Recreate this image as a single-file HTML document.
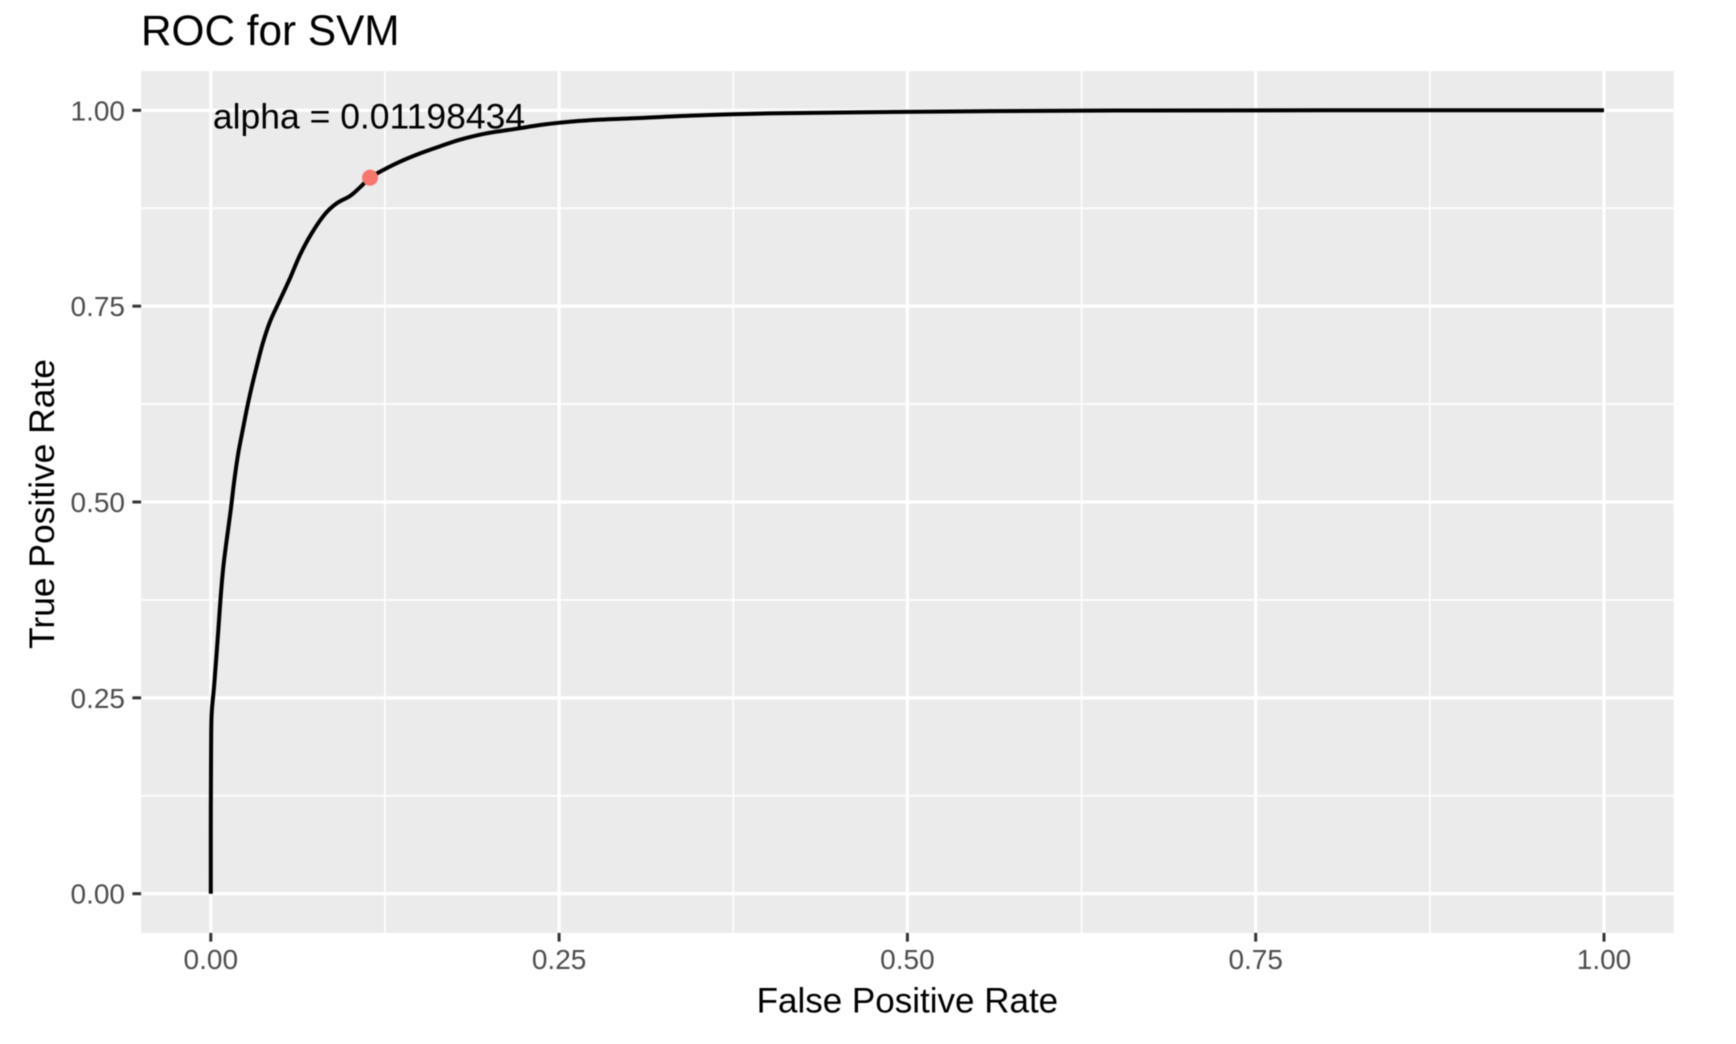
<!DOCTYPE html>
<html>
<head>
<meta charset="utf-8">
<title>ROC for SVM</title>
<style>
html,body{margin:0;padding:0;background:#fff;width:1736px;height:1044px;overflow:hidden}
svg{display:block;filter:blur(0.5px)}
text{font-family:"Liberation Sans",sans-serif}
</style>
</head>
<body>
<svg id="chart" width="1736" height="1044" viewBox="0 0 1736 1044" xmlns="http://www.w3.org/2000/svg">
  <rect x="0" y="0" width="1736" height="1044" fill="#fff"/>
  <rect x="141.1" y="71.1" width="1532.6" height="861.8" fill="#EBEBEB"/>
  <g id="grid"></g>
  <g id="ticks"></g>
  <g id="series"></g>
  <text x="141" y="45" font-size="42.3" fill="#000">ROC for SVM</text>
  <text x="907.4" y="1012.5" font-size="35" fill="#000" text-anchor="middle">False Positive Rate</text>
  <text transform="translate(54,504) rotate(-90)" font-size="35.4" fill="#000" text-anchor="middle">True Positive Rate</text>
</svg>
<script>
const fprValues = [0,0,0.0002,0.0006,0.0025,0.0054,0.0071,0.0090,0.0114,0.0143,0.0169,0.0197,0.0229,0.0262,0.0294,0.0329,0.0373,0.0425,0.0485,0.0563,0.0640,0.0724,0.0820,0.0904,0.0999,0.1071,0.1143,0.1238,0.1358,0.1502,0.1645,0.1789,0.1980,0.2196,0.2363,0.2506,0.2743,0.3081,0.35,0.40,0.47,0.55,0.65,0.80,1];
const tprValues = [0,0.098,0.1825,0.2294,0.2677,0.3366,0.3791,0.4174,0.4515,0.4898,0.5281,0.5622,0.5919,0.6216,0.6472,0.6727,0.7026,0.7302,0.7536,0.7834,0.8153,0.8430,0.8676,0.8813,0.8906,0.9017,0.9140,0.9238,0.9344,0.9450,0.9540,0.9625,0.9706,0.9765,0.9812,0.9842,0.9876,0.9902,0.9935,0.9960,0.9975,0.9988,0.9997,1,1];
const majorTicks = [0,0.25,0.5,0.75,1];
const minorTicks = [0.125,0.375,0.625,0.875];
const tickLabels = ['0.00','0.25','0.50','0.75','1.00'];
const optimalFpr = 0.1143;
const optimalTpr = 0.9140;
const annotationFpr = 0.0015;
const annotationTpr = 0.9770;
const annotationText = 'alpha = 0.01198434';

const NS = 'http://www.w3.org/2000/svg';
const xScale = v => 210.8 + v * 1393.2;
const yScale = v => 893.7 - v * 783.4;
const panel = { l: 141.1, r: 1673.7, t: 71.1, b: 932.9 };
const gridG = document.getElementById('grid');
const tickG = document.getElementById('ticks');
const seriesG = document.getElementById('series');

function mk(tag, attrs, parent, txt) {
  const el = document.createElementNS(NS, tag);
  for (const k in attrs) el.setAttribute(k, attrs[k]);
  if (txt !== undefined) el.textContent = txt;
  parent.appendChild(el);
  return el;
}

minorTicks.forEach(v => {
  const gx = mk('line', { x1: xScale(v), x2: xScale(v), y1: panel.t, y2: panel.b, stroke: '#fff', 'stroke-width': 1.6 }, gridG);
  
  
  const gy = mk('line', { x1: panel.l, x2: panel.r, y1: yScale(v), y2: yScale(v), stroke: '#fff', 'stroke-width': 1.6 }, gridG);
  
  
});

majorTicks.forEach((v, i) => {
  const gx = mk('line', { x1: xScale(v), x2: xScale(v), y1: panel.t, y2: panel.b, stroke: '#fff', 'stroke-width': 3.2 }, gridG);
  
  
  const gy = mk('line', { x1: panel.l, x2: panel.r, y1: yScale(v), y2: yScale(v), stroke: '#fff', 'stroke-width': 3.2 }, gridG);
  
  

  const tx = mk('line', { x1: xScale(v), x2: xScale(v), y1: panel.b, y2: panel.b + 8.7, stroke: '#333', 'stroke-width': 3 }, tickG);
  
  
  const ty = mk('line', { x1: panel.l - 8.7, x2: panel.l, y1: yScale(v), y2: yScale(v), stroke: '#333', 'stroke-width': 3 }, tickG);
  
  

  const lx = mk('text', { x: xScale(v), y: 969, 'font-size': 28, fill: '#4D4D4D', 'text-anchor': 'middle' }, tickG, tickLabels[i]);
  
  
  const ly = mk('text', { x: 125, y: yScale(v) + 10, 'font-size': 28, fill: '#4D4D4D', 'text-anchor': 'end' }, tickG, tickLabels[i]);
  
  
});

const px = fprValues.map(xScale);
const py = tprValues.map(yScale);
let d = 'M' + px[0].toFixed(2) + ' ' + py[0].toFixed(2);
for (let i = 0; i < px.length - 1; i++) {
  const a = Math.max(i - 1, 0);
  const b = Math.min(i + 2, px.length - 1);
  const c1x = px[i] + (px[i + 1] - px[a]) / 6;
  const c1y = py[i] + (py[i + 1] - py[a]) / 6;
  const c2x = px[i + 1] - (px[b] - px[i]) / 6;
  const c2y = py[i + 1] - (py[b] - py[i]) / 6;
  d += ' C' + c1x.toFixed(2) + ' ' + c1y.toFixed(2) + ' ' + c2x.toFixed(2) + ' ' + c2y.toFixed(2) + ' ' + px[i + 1].toFixed(2) + ' ' + py[i + 1].toFixed(2);
}
const curve = mk('path', { d: d, fill: 'none', stroke: '#000', 'stroke-width': 4, 'stroke-linejoin': 'round', 'stroke-linecap': 'butt' }, seriesG);



const dot = mk('circle', { cx: xScale(optimalFpr), cy: yScale(optimalTpr), r: 8, fill: '#F8766D' }, seriesG);



const note = mk('text', { x: xScale(annotationFpr), y: yScale(annotationTpr), 'font-size': 35.5, fill: '#000' }, seriesG, annotationText);


</script>
</body>
</html>
